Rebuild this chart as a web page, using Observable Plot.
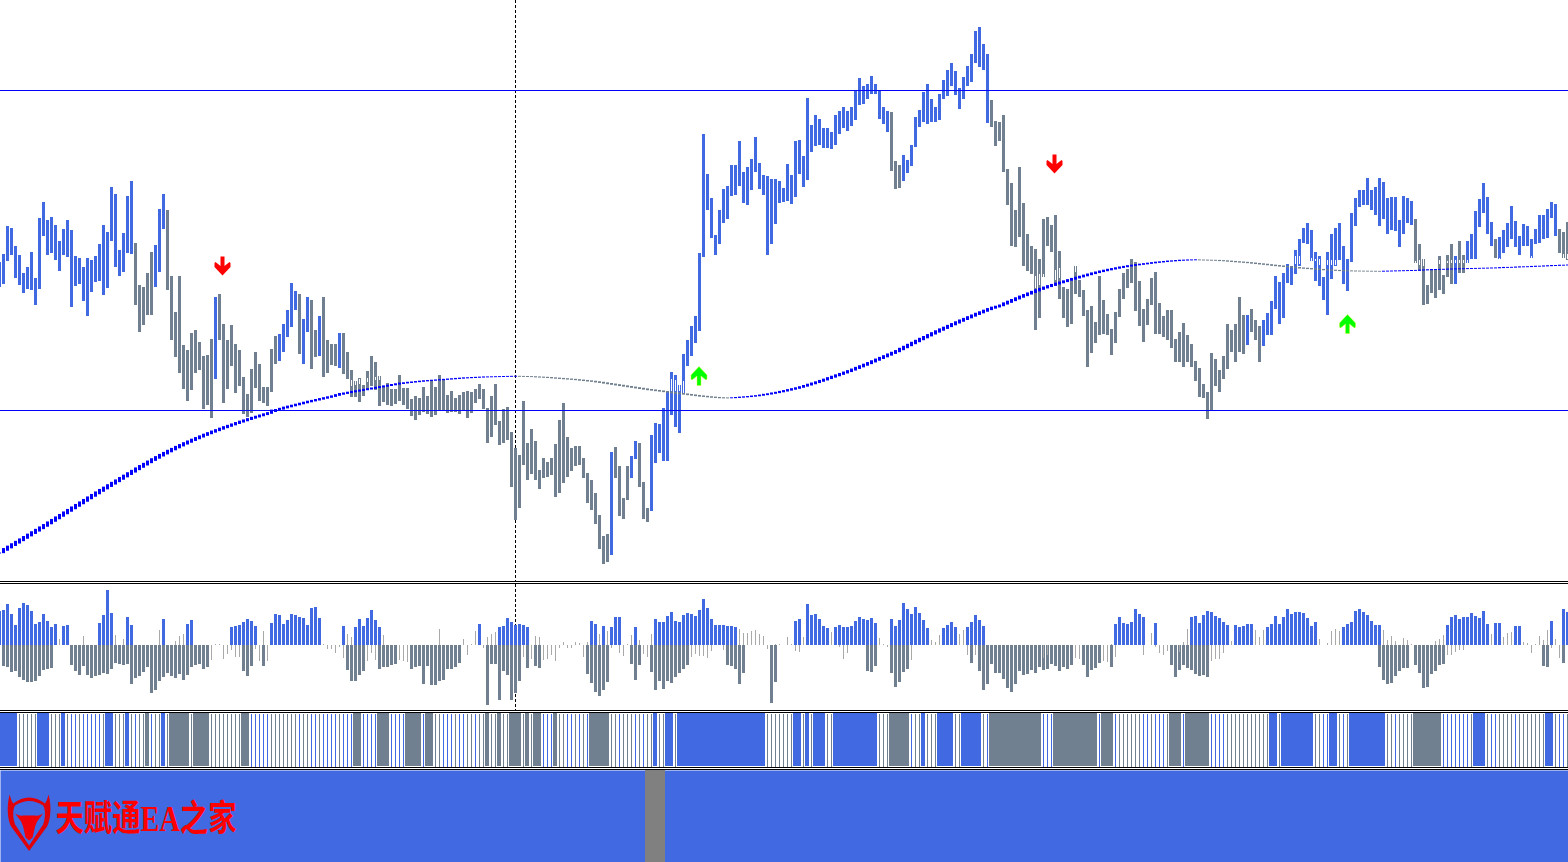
<!DOCTYPE html>
<html>
<head>
<meta charset="utf-8">
<script src="https://cdn.jsdelivr.net/npm/d3@7"></script>
<script src="https://cdn.jsdelivr.net/npm/@observablehq/plot@0.6"></script>
<style>
html,body{margin:0;padding:0;background:#fff;overflow:hidden}
svg{display:block;max-width:none}
.sep{height:1px;border-top:1px solid #000;border-bottom:1px solid #000;background:#fff}
</style>
</head>
<body>
<div id="chart"></div>
<script>
const barHigh=[318,326,354,352,334,325,307,313,328,302,362,378,360,363,355,339,351,360,350,324,
322,313,322,320,324,336,355,348,393,386,330,347,384,399,337,295,293,307,328,335,
371,386,370,304,268,304,235,230,247,250,238,224,225,241,283,286,256,240,255,236,
230,203,186,211,228,216,193,193,231,244,246,256,270,297,289,286,261,283,280,250,
264,283,240,236,236,247,247,228,210,199,202,195,209,224,218,204,194,197,191,191,
205,192,192,181,184,182,193,184,200,193,205,201,185,189,182,185,188,189,188,191,
196,191,172,184,196,159,171,173,148,132,125,179,137,151,139,110,122,118,122,136,
160,177,143,132,134,134,122,107,100,87,65,44,46,128,133,114,82,114,124,139,
137,98,72,145,157,156,172,188,208,205,195,226,240,254,264,327,446,406,382,345,
370,391,394,415,415,439,408,413,421,443,417,405,404,401,401,399,392,416,405,439,
440,424,482,455,465,461,452,452,448,465,469,473,469,473,490,502,494,496,504,496,
490,473,469,468,419,415,425,420,435,463,470,488,496,481,473,486,500,510,517,509,
492,503,514,526,549,553,536,526,480,459,458,465,411,397,370,413,377,346,334,331,
321,361,363,355,365,329,293,291,299,314,300,290,270,274,258,304,280,266,251,268,
291,307,311,321,318,299,271,281,302,308,277,264,270,270,241,248,257,245,236,219,
212,196,188,227,221,210,224,256,250,256,283,265,265,271,260,254,260,267,279,304,
298,307,316,314,330,341,352,357,350,328,324,303,328,346,352,357,334,321,367,382,
390,390,402,390,393,402,398,382,383,383,360,384,382,379,361,336,321,295,311,311,
324,305,325,336,324,339,325,339,346,369,381,397,383,358,341,343,350,357,374,359,
344,356,354,341,351,365,365,371,378,376,351,348,358];
const barLow=[293,296,319,325,302,295,287,291,290,275,291,344,325,327,320,309,325,323,273,294,
296,279,264,288,298,299,285,292,339,313,304,308,327,326,275,248,255,265,265,293,
308,351,290,240,223,207,191,179,190,207,210,171,175,162,201,240,177,191,214,187,
194,166,163,167,192,179,177,174,188,216,219,228,243,253,270,226,216,248,211,223,
224,203,207,215,214,212,206,201,183,183,178,184,190,194,190,174,178,175,174,176,
179,175,171,164,160,165,168,166,163,165,169,170,167,168,168,166,169,162,167,177,
181,171,137,143,155,135,137,140,93,60,72,115,100,106,100,91,102,103,105,83,
87,97,103,109,114,115,102,77,70,56,31,16,18,25,102,64,61,80,102,121,
93,61,58,69,117,127,119,119,165,153,147,187,214,224,237,249,323,370,342,325,
336,357,361,384,385,394,377,375,390,408,391,385,325,336,356,377,378,379,376,383,
406,393,400,428,434,435,432,432,431,435,446,452,449,454,460,475,476,481,486,486,
461,456,448,409,391,392,399,407,414,433,453,458,456,458,458,460,481,484,494,485,
471,481,494,498,517,513,510,457,453,434,439,408,375,334,333,343,314,309,306,250,
262,303,334,328,294,281,262,253,256,286,283,264,213,227,237,245,246,245,225,237,
263,281,292,297,269,254,238,255,275,246,246,243,240,232,218,218,213,218,213,199,
183,182,161,170,194,188,201,211,228,218,228,226,235,248,240,218,234,245,245,271,
256,262,297,295,306,314,337,336,319,299,294,280,265,301,314,320,296,289,318,354,
373,375,375,370,365,354,361,346,350,349,333,346,357,355,317,309,275,276,287,282,
290,286,303,296,296,307,307,317,321,321,353,367,346,334,322,321,327,333,341,333,
325,334,334,322,336,337,341,342,362,344,327,322,320];
const ma=[27,29.4,31.8,34.2,36.6,39,41.4,43.8,46.2,48.6,51,53.4,55.9,58.4,60.9,63.4,65.9,68.4,70.9,73.4,
75.9,78.4,80.9,83.4,85.9,88.4,90.8,93.2,95.6,98,100.4,102.8,105.2,107.6,110,112.4,114.7,117,119.3,121.5,
123.7,125.8,127.9,129.9,131.9,133.8,135.7,137.5,139.3,141,142.7,144.4,146,147.6,149.1,150.6,152.1,153.5,154.9,156.3,
157.7,159,160.3,161.6,162.8,164,165.2,166.4,168.3,169.5,170.7,171.9,173,174,175,176,177,178,178.9,179.8,
180.7,181.6,182.5,183.4,184.5,185.6,186.4,187.2,188,188.7,189.4,190.1,190.8,191.5,192.2,192.9,193.6,194.3,195,195.7,
196.4,196.9,197.4,197.8,198.2,198.6,199,199.3,199.6,199.9,200.2,200.5,200.8,201.1,201.4,201.7,202,202.2,202.4,202.6,
202.8,203,203.1,203.2,203.3,203.4,203.5,203.6,203.7,203.8,203.7,203.6,203.5,203.4,203.2,203,202.8,202.6,202.3,202,
201.7,201.4,201.1,200.8,200.5,200.1,199.7,199.3,198.9,198.4,197.9,197.3,196.7,196.1,195.5,194.9,194.3,193.7,193.1,192.5,
191.9,191.3,190.7,190.2,189.7,189.2,188.7,188.2,187.7,187.2,186.7,186.2,185.7,185.2,184.7,184.2,183.8,183.4,183,182.7,
182.4,182.2,182.1,182.2,182.4,182.7,183,183.3,183.7,184.1,184.6,185.2,185.8,186.5,187.2,188,188.8,189.7,190.6,191.5,
192.5,193.6,194.8,196,197.2,198.5,199.8,201.2,202.6,204,205.4,206.8,208.2,209.7,211.3,212.9,214.5,216.1,217.8,219.5,
221.2,222.9,224.6,226.3,228,230,232,234,236,238,240,241.9,243.8,245.7,247.6,249.5,251.3,253.1,254.9,256.7,
258.5,260.2,261.9,263.6,265.3,266.9,268.5,270.1,271.6,272.8,274,275.7,277.4,279.1,280.8,282.5,284.1,285.7,287.3,288.9,
290.4,291.8,293.2,294.5,295.8,297,298.2,299.4,300.6,301.8,302.9,304,305.1,306.2,307.2,308.2,309.1,310,310.8,311.6,
312.4,313.1,313.8,314.4,315,315.5,316,316.5,317,317.5,317.9,318.3,318.7,319,319.3,319.6,319.8,320,320.1,320.2,
320.1,320,319.9,319.8,319.7,319.5,319.3,319,318.7,318.4,318.1,317.8,317.5,317.1,316.7,316.3,315.9,315.5,315,314.6,
314.2,313.8,313.4,313,312.6,312.2,311.9,311.6,311.3,311,310.7,310.4,310.1,309.9,309.7,309.5,309.3,309.2,309.1,309,
308.95,308.9,308.85,308.8,308.75,308.7,308.8,308.9,309,309.1,309.2,309.3,309.4,309.5,309.6,309.8,310,310.2,310.4,310.5,
310.6,310.7,310.9,311,311.1,311.2,311.3,311.4,311.5,311.6,311.7,311.8,311.9,312,312.1,312.3,312.5,312.6,312.7,312.9,
313.1,313.2,313.3,313.5,313.7,313.8,314,314.2,314.4,314.5,314.7,314.8,315];
const upRuns=[[0,33],[39,41],[54,54],[70,74],[76,77],[80,80],[85,85],[153,153],[158,159],[163,222],[226,247],[312,312],[316,353],[364,364],[367,373],[375,389]];
const notchBar=[88,89,90,92,94,95,168,169,170,171,259,260,261,264,265,269,324,325,328,329,330,332,333,334,354,355,356,360,362,363,364,365,366,367,368,375,383,391,392];
const notchHigh=[200,199,201,202,203,204,201,200,195,199,304,306,306,310,312,314,324,324,322,321,321,320,320,320,319,320,321,320,319,320,320,320,320,320,320,322,324,326,326];
const notchLow=[194,195,196,198,200,200,189,189,189,187,292,295,303,300,302,308,316,316,319,319,315,315,315,315,317,315,314,316,317,317,317,317,317,317,318,321,322,322,321];
const levels=[490,170];
const crossBar=129;
const downArrowBar=[55.75,263.75], downArrowPrice=[314.5,416.5];
const upArrowBar=[174.875,337], upArrowPrice=[204.5,256.5];

const histUp=[34,35,41,31,20,37,42,40,34,21,23,31,24,18,21,0,19,20,0,0,
0,0,0,0,0,22,30,55,32,0,0,0,28,20,0,0,0,0,0,0,
0,26,0,0,0,0,0,21,25,0,0,0,0,0,0,0,0,0,18,19,
20,23,26,24,19,0,0,0,22,31,30,21,25,31,30,28,27,20,37,38,
27,0,0,0,0,0,19,0,0,18,26,19,27,35,25,18,0,0,0,0,
0,0,0,0,0,0,0,0,0,0,0,0,0,0,0,0,0,0,0,0,
21,0,0,0,0,18,19,27,23,20,21,20,18,0,0,0,0,0,0,0,
0,0,0,0,0,0,0,0,24,21,0,19,0,18,28,28,0,0,0,18,
0,0,0,0,26,23,23,29,33,24,23,30,32,31,29,35,46,37,26,20,
20,20,19,19,18,0,0,0,0,0,0,0,0,0,0,0,0,0,0,24,
26,0,41,30,31,26,19,17,0,18,20,18,18,19,24,28,26,25,27,22,
0,0,0,26,19,25,42,36,31,38,32,25,17,0,0,0,17,20,23,18,
0,0,18,23,30,25,19,0,0,0,0,0,0,0,0,0,0,0,0,0,
0,0,0,0,0,0,0,0,0,0,0,0,0,0,0,0,0,0,0,21,
28,22,21,23,36,31,28,0,0,22,0,0,0,0,0,0,0,0,28,29,
22,30,34,33,29,27,23,20,0,20,18,19,21,21,0,0,0,18,21,29,
21,28,36,31,33,33,32,27,19,23,0,0,0,0,0,0,18,21,23,34,
36,33,30,24,20,20,0,0,0,0,0,0,0,0,0,0,0,0,0,0,
0,0,20,28,30,26,28,28,32,29,27,34,21,0,22,22,0,0,0,19,
19,0,0,0,0,0,0,0,24,0,0,36,33];
const histDown=[0,21,22,27,26,32,35,37,37,36,31,25,24,23,0,0,0,0,20,26,
30,21,30,33,31,30,28,29,24,18,19,20,19,39,33,31,27,22,48,45,
36,32,28,31,33,29,35,30,22,20,19,24,22,0,0,0,0,0,0,0,
0,26,31,21,0,0,21,0,0,0,0,0,0,0,0,0,0,0,0,0,
0,0,0,0,0,0,0,25,36,36,30,26,0,0,0,24,22,22,20,19,
0,0,0,24,22,21,39,21,40,40,36,35,24,24,22,18,0,0,0,0,
0,0,60,19,19,55,26,30,55,48,36,0,23,0,21,23,0,0,0,0,
0,0,0,0,0,0,0,29,38,47,51,45,37,0,0,0,0,0,19,35,
20,0,0,27,45,36,44,36,38,32,28,24,20,0,0,0,0,0,0,0,
0,0,20,21,24,39,28,0,0,0,0,0,0,58,37,0,0,0,0,0,
0,0,0,0,0,0,0,0,0,0,0,0,0,0,0,0,0,26,27,21,
0,0,0,28,42,37,27,24,0,0,0,0,0,0,0,0,0,0,0,0,
0,0,0,18,0,26,45,39,19,28,28,34,43,47,39,26,30,29,25,28,
22,25,24,19,21,26,22,24,20,0,0,20,32,25,23,18,0,0,22,0,
0,0,0,0,0,0,0,0,0,0,0,0,0,20,32,25,20,23,25,29,
31,30,32,0,0,0,0,0,0,0,0,0,0,0,0,0,0,0,0,0,
0,0,0,0,0,0,0,0,0,0,0,0,0,0,0,0,0,0,0,0,
0,0,0,0,0,22,35,39,38,31,26,23,23,0,20,28,43,42,29,26,
20,19,0,0,0,0,0,0,0,0,0,0,0,0,0,0,0,0,0,0,
0,0,0,0,0,0,21,22,0,0,0,18,0];
const thinBar=[15,21,29,31,40,44,45,46,53,54,55,56,57,58,59,60,64,65,66,67,81,82,83,84,85,86,87,88,92,93,94,96,100,101,102,110,116,117,118,119,121,122,123,124,131,133,134,135,136,137,138,139,140,141,142,143,144,145,146,147,150,152,153,155,156,157,158,160,161,162,163,173,174,175,176,177,178,181,185,186,187,188,189,190,191,192,194,195,197,198,199,200,201,208,210,211,212,220,221,222,228,233,234,235,240,241,242,244,261,262,269,270,276,277,278,279,286,288,289,290,291,292,295,296,297,303,304,305,306,308,314,315,316,330,332,333,334,335,346,347,348,349,351,352,353,359,360,361,362,363,364,365,366,373,376,377,378,381,382,383,384,385,386,387,388,389,390];
const thinValue=[6,9,10,6,15,4,9,11,-15,1,1,-14,-9,-5,-12,-12,-4,-16,14,-16,1,-4,-4,-8,-2,-13,11,8,-16,-8,-15,10,-15,-16,-17,16,6,-10,1,14,-3,8,11,13,-12,-14,9,8,-15,-14,-10,-16,-3,3,-3,-3,3,2,-12,3,11,14,-3,-8,-11,1,10,5,-9,-12,11,-12,-9,-11,-11,-13,-6,-5,16,12,12,14,15,11,9,-4,1,1,8,1,-6,-7,8,13,-2,-14,-8,7,1,-2,-15,5,3,10,11,15,-10,-10,-13,-10,-13,-14,-16,-17,1,-12,-10,12,-2,-8,-10,-6,-7,3,16,-16,-14,-14,-8,4,15,8,15,6,2,14,16,14,15,5,9,4,7,5,1,4,6,10,-10,-10,-7,-5,-5,11,8,12,13,3,2,-8,1,9,5,15,-3,6,-13];

const solidUp=[[0,4],[10,12],[16,16],[27,28],[32,32],[41,41],[164,164],[167,168],[170,191],[199,200],[202,202],[204,206],[209,219],[231,231],[235,238],[241,245],[318,319],[321,328],[333,334],[338,346],[369,371],[387,388]];
const solidDown=[[37,37],[43,47],[49,52],[61,62],[89,90],[95,97],[102,105],[107,108],[122,122],[125,125],[128,130],[132,132],[134,135],[139,139],[148,152],[223,227],[248,260],[264,274],[276,278],[293,295],[297,302],[354,360]];
const stripeUp=[18,19,21,22,23,24,25,34,38,63,64,65,66,67,75,78,79,81,82,83,84,86,87,88,91,92,93,94,98,99,100,101,106,111,112,113,115,116,119,136,137,138,142,143,145,147,155,159,161,228,247,261,262,263,275,279,286,287,289,290,291,296,303,304,305,306,331,332,336,349,361,362,363,364,365,366,367,373,374,379,390,391];
const footerDownRun=[[161.5,166.5]];
const footerText="天赋通EA之家";

const BLUE="#4169E1", SLATE="#708090", LINE="#0000FF", THIN="#A9A9A9";
const allBars=d3.range(393);
const inRuns=(runs,i)=>runs.some(([a,b])=>i>=a&&i<=b);
const xScale={type:"linear",domain:[0,392],range:[-1,1567],axis:null};
const base={width:1568,margin:0,x:xScale,style:{background:"#fff",display:"block"}};
const chart=document.getElementById("chart");
const sep=()=>{const d=document.createElement("div");d.className="sep";chart.appendChild(d);};

const arrowDraw=s=>({draw(c){
  const p=[[-2,-9.5],[2,-9.5],[2,0],[7,-4],[8,-3],[8,1],[0,9.5],[-8,1],[-8,-3],[-7,-4],[-2,0]];
  p.forEach(([x,y],k)=>k?c.lineTo(x,s*y):c.moveTo(x,s*y));c.closePath();
}});

// main price panel
const maPrev=i=>ma[Math.max(i-1,0)];
const maRising=i=>ma[i]>=maPrev(i);
const maHalf=i=>0.9*Math.abs(ma[i]-maPrev(i))+0.4;
chart.appendChild(Plot.plot({...base,height:581,
  y:{domain:[0,580],range:[580,0],axis:null},
  color:{type:"identity"},
  marks:[
    Plot.ruleX([crossBar],{x:d=>d,stroke:()=>"#000",strokeDasharray:"3,2"}),
    Plot.ruleX(allBars,{x:i=>i,y1:i=>barLow[i],y2:i=>barHigh[i],strokeWidth:3,stroke:i=>inRuns(upRuns,i)?BLUE:SLATE}),
    Plot.ruleX(notchBar,{x:d=>d,y1:(d,k)=>notchLow[k],y2:(d,k)=>notchHigh[k],stroke:()=>"#fff",strokeWidth:1}),
    Plot.ruleX(allBars,{x:i=>i,y1:i=>ma[i]-maHalf(i),y2:i=>ma[i]+maHalf(i),strokeWidth:3,stroke:i=>maRising(i)?LINE:SLATE}),
    Plot.ruleY(levels,{y:d=>d,stroke:()=>LINE,strokeWidth:1}),
    Plot.dot(downArrowBar,{x:d=>d,y:(d,k)=>downArrowPrice[k],r:4,symbol:arrowDraw(1),fill:"#FF0000",stroke:"none"}),
    Plot.dot(upArrowBar,{x:d=>d,y:(d,k)=>upArrowPrice[k],r:4,symbol:arrowDraw(-1),fill:"#00FF00",stroke:"#CCFF33",strokeWidth:0.5})
  ]}));
sep();

// histogram panel
chart.appendChild(Plot.plot({...base,height:126,
  y:{domain:[-65,61],range:[126,0],axis:null},
  marks:[
    Plot.ruleX([crossBar],{x:d=>d,stroke:"#000",strokeDasharray:"3,2"}),
    Plot.ruleX(allBars.filter(i=>histDown[i]>0),{x:i=>i,y1:0,y2:i=>-histDown[i],stroke:SLATE,strokeWidth:3}),
    Plot.ruleX(allBars.filter(i=>histUp[i]>0),{x:i=>i,y1:0,y2:i=>histUp[i],stroke:BLUE,strokeWidth:3}),
    Plot.ruleX(thinBar,{x:d=>d,y1:0,y2:(d,k)=>thinValue[k],stroke:THIN,strokeWidth:1})
  ]}));
sep();

// state band
const isSolid=i=>inRuns(solidUp,i)||inRuns(solidDown,i);
chart.appendChild(Plot.plot({...base,height:54,
  y:{domain:[0,1],axis:null},
  marks:[
    Plot.ruleX(allBars.filter(i=>!isSolid(i)&&!stripeUp.includes(i)),{x:d=>d,stroke:SLATE,strokeWidth:1,insetTop:1}),
    Plot.ruleX(stripeUp,{x:d=>d,stroke:BLUE,strokeWidth:1,insetTop:1}),
    Plot.ruleX(allBars.filter(i=>inRuns(solidUp,i)),{x:d=>d,dx:-0.5,stroke:BLUE,strokeWidth:4,insetBottom:1}),
    Plot.ruleX(allBars.filter(i=>inRuns(solidDown,i)),{x:d=>d,dx:-0.5,stroke:SLATE,strokeWidth:4,insetBottom:1})
  ]}));
sep();

// footer panel with watermark
const shape=fn=>({draw:fn});
const shieldOuter=shape(c=>{c.moveTo(-19.5,-28);c.bezierCurveTo(-23,-14,-21,-2,-18,4);c.lineTo(0,28.5);c.lineTo(18,4);c.bezierCurveTo(21,-2,23,-14,19.5,-28);c.quadraticCurveTo(18,-22,16,-19);c.quadraticCurveTo(0,-31,-16,-19);c.quadraticCurveTo(-18,-22,-19.5,-28);c.closePath();});
const shieldInner=shape(c=>{c.moveTo(-14,-17);c.quadraticCurveTo(0,-26,14,-17);c.bezierCurveTo(17,-12,16,-4,14,2);c.lineTo(0,23);c.lineTo(-14,2);c.bezierCurveTo(-16,-4,-17,-12,-14,-17);c.closePath();});
const bull=shape(c=>{c.moveTo(-14,-9);c.quadraticCurveTo(-9,-6,-6,-7);c.lineTo(6,-7);c.quadraticCurveTo(9,-6,14,-9);c.lineTo(8,-1);c.lineTo(6,4);c.lineTo(3.5,15);c.lineTo(0,18);c.lineTo(-3.5,15);c.lineTo(-6,4);c.lineTo(-8,-1);c.closePath();});
const logoRow=[{bar:7.4,level:40}];
const logoDot=(symbol,fill)=>Plot.dot(logoRow,{x:"bar",y:"level",r:4,symbol,fill,stroke:"none"});
const footer=Plot.plot({...base,height:92,
  y:{domain:[0,92],range:[92,0],axis:null},
  marks:[
    Plot.frame({fill:BLUE,stroke:"none"}),
    Plot.rect(footerDownRun,{x1:d=>d[0],x2:d=>d[1],y1:0,y2:92,fill:"#808080"}),
    logoDot(shieldOuter,"#E0000A"),
    logoDot(shieldInner,BLUE),
    logoDot(bull,"#F00008"),
    Plot.text([footerText],{x:14,y:43,text:d=>d,textAnchor:"start",fill:"#FF0000",fontSize:36,fontWeight:"700",fontFamily:"'Liberation Serif','Noto Sans CJK SC',serif"})
  ]});
chart.appendChild(footer);
footer.querySelectorAll("text").forEach(t=>{t.setAttribute("textLength","181");t.setAttribute("lengthAdjust","spacingAndGlyphs");});
</script>
</body>
</html>
